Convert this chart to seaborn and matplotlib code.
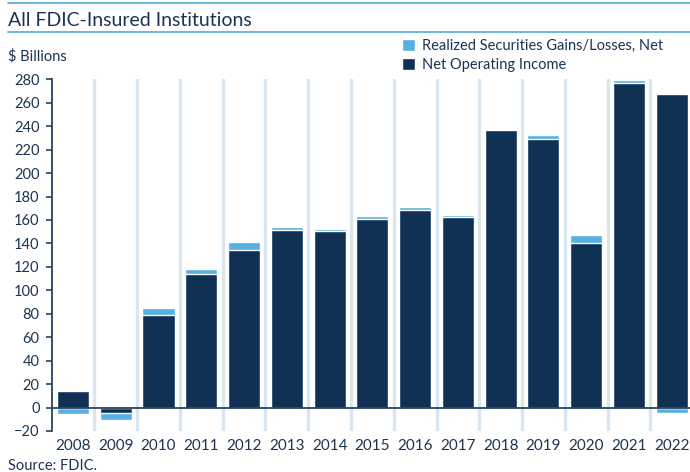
import numpy as np
import pandas as pd
import seaborn as sns
import matplotlib.pyplot as plt
from matplotlib.lines import Line2D
from matplotlib.patches import Patch

# values, $ billions
years = ['2008', '2009', '2010', '2011', '2012', '2013', '2014', '2015',
         '2016', '2017', '2018', '2019', '2020', '2021', '2022']
net_operating_income = [14.2, -4.9, 79.0, 113.9, 134.4, 151.3, 150.4, 160.9,
                        168.6, 162.7, 236.7, 229.0, 140.4, 276.8, 267.5]
realized_gains = [-5.2, -5.6, 5.9, 4.3, 6.8, 2.5, 1.6, 2.6,
                  2.6, 1.7, 0.0, 3.4, 6.8, 2.5, -4.3]
yticks = list(range(-20, 281, 20))

DARK = '#0e3154'
LIGHT = '#56b0e2'
TEXT = '#1c3452'
GRID = '#d9e5ef'

df = pd.DataFrame({'year': years, 'noi': net_operating_income, 'gains': realized_gains})
# light segment is stacked on the dark one when both have the same sign,
# otherwise it hangs from zero on the other side
same_sign = np.sign(df['noi']) == np.sign(df['gains'])
df['light_top'] = np.where(same_sign, df['noi'] + df['gains'], df['gains'])

sns.set_style('white')
plt.rcParams['font.family'] = ['Lato', 'DejaVu Sans']

fig = plt.figure(figsize=(6.9, 4.72), dpi=100)
ax = fig.add_axes([52 / 690, 1 - 431 / 472, 1 - 52 / 690, (431 - 79.3) / 472])

sns.barplot(data=df, x='year', y='light_top', color=LIGHT, width=0.75,
            saturation=1, ax=ax, zorder=2)
sns.barplot(data=df, x='year', y='noi', color=DARK, width=0.75,
            saturation=1, ax=ax, zorder=3)

# separators between years
for i in range(len(years) - 1):
    ax.axvline(i + 0.5, color=GRID, lw=2.4, zorder=1)
ax.axhline(0, color='#2b4260', lw=1.3, zorder=4)

ax.set_xlim(-0.49, len(years) - 0.573)
ax.set_ylim(-20, 280)
ax.set_yticks(yticks)
ax.set_xlabel('')
ax.set_ylabel('')

for side in ['top', 'right', 'bottom']:
    ax.spines[side].set_visible(False)
ax.spines['left'].set_color('#2b4260')
ax.spines['left'].set_linewidth(1.3)
ax.tick_params(axis='y', direction='out', length=4, width=1.2, color='#2b4260',
               labelsize=10.5, labelcolor=TEXT, pad=5, left=True)
ax.tick_params(axis='x', length=0, labelsize=11, labelcolor=TEXT, pad=6)

# header
fig.add_artist(Line2D([8 / 690, 1], [1 - 2.5 / 472] * 2, color='#5ab1e3', lw=1.3))
fig.add_artist(Line2D([8 / 690, 1], [1 - 32.3 / 472] * 2, color='#5ab1e3', lw=1.3))
fig.text(8 / 690, 1 - 26 / 472, 'All FDIC-Insured Institutions', fontsize=14,
         color=TEXT, va='baseline', ha='left')
fig.text(8 / 690, 1 - 60 / 472, '$ Billions', fontsize=10.5, color=TEXT,
         va='baseline', ha='left')
fig.text(8 / 690, 1 - 470 / 472, 'Source: FDIC.', fontsize=10.5, color=TEXT,
         va='baseline', ha='left')

handles = [Patch(facecolor=LIGHT, label='Realized Securities Gains/Losses, Net'),
           Patch(facecolor=DARK, label='Net Operating Income')]
fig.legend(handles=handles, loc='upper left', bbox_to_anchor=(402 / 690, 1 - 39 / 472),
           frameon=False, fontsize=10.5, labelcolor=TEXT, handlelength=0.9,
           handleheight=0.9, handletextpad=0.45, labelspacing=0.32,
           borderpad=0, borderaxespad=0)

fig.savefig('out.png', dpi=100)
